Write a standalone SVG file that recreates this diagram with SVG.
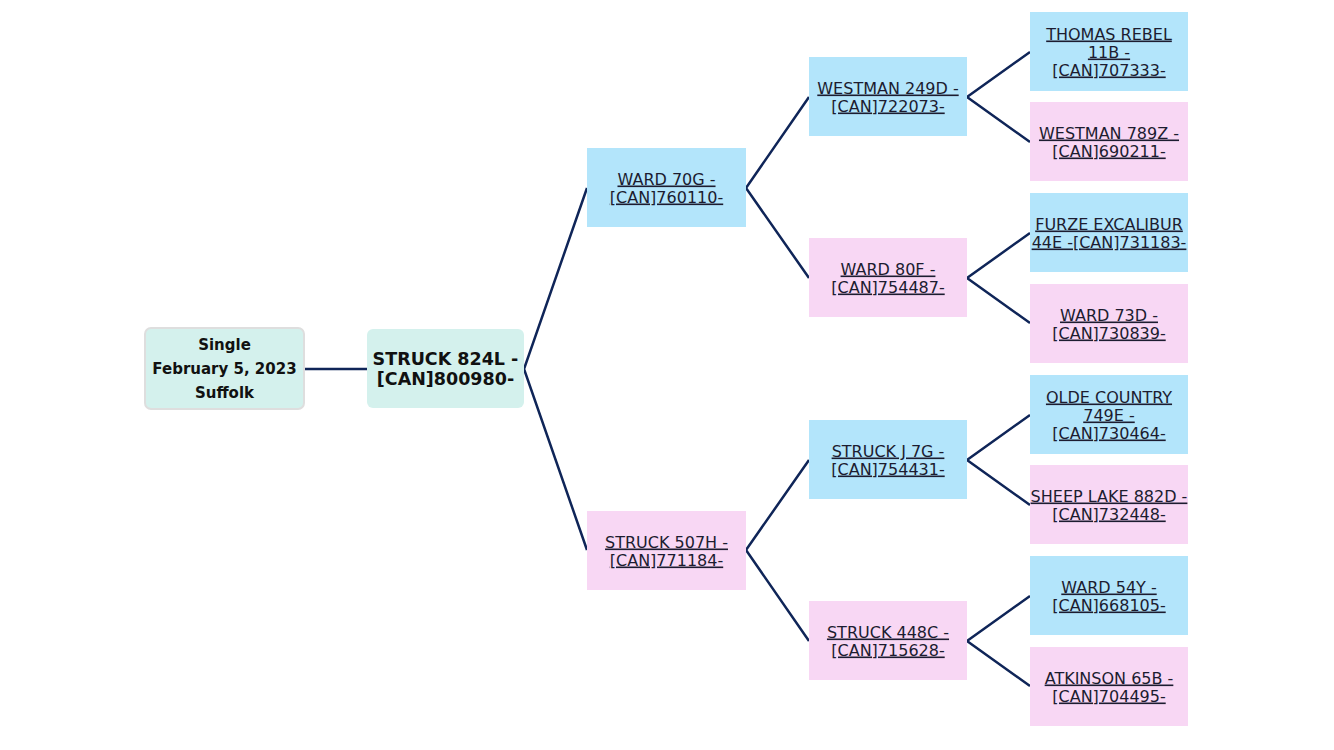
<svg xmlns="http://www.w3.org/2000/svg" width="1334" height="750" viewBox="0 0 1334 750">
<style>
.t{font-family:"DejaVu Sans",Verdana,sans-serif;font-size:16px;fill:#1c1c30;text-anchor:middle;text-decoration:underline}
.b{font-family:"DejaVu Sans",Verdana,sans-serif;font-weight:bold;fill:#111;text-anchor:middle}
.blue{fill:#b3e5fb}
.pink{fill:#f8d7f4}
.teal{fill:#d4f1ed}
.ln{stroke:#0f2558;stroke-width:2.5;fill:none}
</style>
<rect width="1334" height="750" fill="#fff"/>
<g id="connectors" class="ln">
<line x1="304" y1="369" x2="367" y2="369"/>
<polyline points="587,188 524,369 587,550"/>
<polyline points="809,97 746,188 809,278"/>
<polyline points="809,460 746,550 809,641"/>
<polyline points="1030,52 967,97 1030,142"/>
<polyline points="1030,233 967,278 1030,323"/>
<polyline points="1030,415 967,460 1030,505"/>
<polyline points="1030,596 967,641 1030,686"/>
</g>
<g id="info">
<rect class="teal" x="145" y="328" width="159" height="81" rx="6" stroke="#dedede" stroke-width="2"/>
<text class="b" font-size="15" x="224.5" y="349.5">Single</text>
<text class="b" font-size="15" x="224.5" y="373.5">February 5, 2023</text>
<text class="b" font-size="15" x="224.5" y="397.5">Suffolk</text>
</g>
<g id="root">
<rect class="teal" x="367" y="329" width="157" height="79" rx="6"/>
<text class="b" font-size="17.5" x="445.5" y="364.5">STRUCK 824L -</text>
<text class="b" font-size="17.5" x="445.5" y="384.5">[CAN]800980-</text>
</g>
<g id="n_ward70g">
<rect class="blue" x="587" y="148" width="159" height="79"/>
<text class="t" x="666.5" y="184.5">WARD 70G -</text>
<text class="t" x="666.5" y="202.5">[CAN]760110-</text>
</g>
<g id="n_struck507h">
<rect class="pink" x="587" y="511" width="159" height="79"/>
<text class="t" x="666.5" y="547.5">STRUCK 507H -</text>
<text class="t" x="666.5" y="565.5">[CAN]771184-</text>
</g>
<g id="n_westman249d">
<rect class="blue" x="809" y="57" width="158" height="79"/>
<text class="t" x="888" y="93.5">WESTMAN 249D -</text>
<text class="t" x="888" y="111.5">[CAN]722073-</text>
</g>
<g id="n_ward80f">
<rect class="pink" x="809" y="238" width="158" height="79"/>
<text class="t" x="888" y="274.5">WARD 80F -</text>
<text class="t" x="888" y="292.5">[CAN]754487-</text>
</g>
<g id="n_struckj7g">
<rect class="blue" x="809" y="420" width="158" height="79"/>
<text class="t" x="888" y="456.5">STRUCK J 7G -</text>
<text class="t" x="888" y="474.5">[CAN]754431-</text>
</g>
<g id="n_struck448c">
<rect class="pink" x="809" y="601" width="158" height="79"/>
<text class="t" x="888" y="637.5">STRUCK 448C -</text>
<text class="t" x="888" y="655.5">[CAN]715628-</text>
</g>
<g id="n_thomas">
<rect class="blue" x="1030" y="12" width="158" height="79"/>
<text class="t" x="1109" y="39.5">THOMAS REBEL</text>
<text class="t" x="1109" y="57.5">11B -</text>
<text class="t" x="1109" y="75.5">[CAN]707333-</text>
</g>
<g id="n_westman789z">
<rect class="pink" x="1030" y="102" width="158" height="79"/>
<text class="t" x="1109" y="138.5">WESTMAN 789Z -</text>
<text class="t" x="1109" y="156.5">[CAN]690211-</text>
</g>
<g id="n_furze">
<rect class="blue" x="1030" y="193" width="158" height="79"/>
<text class="t" x="1109" y="229.5">FURZE EXCALIBUR</text>
<text class="t" x="1109" y="247.5">44E -[CAN]731183-</text>
</g>
<g id="n_ward73d">
<rect class="pink" x="1030" y="284" width="158" height="79"/>
<text class="t" x="1109" y="320.5">WARD 73D -</text>
<text class="t" x="1109" y="338.5">[CAN]730839-</text>
</g>
<g id="n_olde">
<rect class="blue" x="1030" y="375" width="158" height="79"/>
<text class="t" x="1109" y="402.5">OLDE COUNTRY</text>
<text class="t" x="1109" y="420.5">749E -</text>
<text class="t" x="1109" y="438.5">[CAN]730464-</text>
</g>
<g id="n_sheep">
<rect class="pink" x="1030" y="465" width="158" height="79"/>
<text class="t" x="1109" y="501.5">SHEEP LAKE 882D -</text>
<text class="t" x="1109" y="519.5">[CAN]732448-</text>
</g>
<g id="n_ward54y">
<rect class="blue" x="1030" y="556" width="158" height="79"/>
<text class="t" x="1109" y="592.5">WARD 54Y -</text>
<text class="t" x="1109" y="610.5">[CAN]668105-</text>
</g>
<g id="n_atkinson">
<rect class="pink" x="1030" y="647" width="158" height="79"/>
<text class="t" x="1109" y="683.5">ATKINSON 65B -</text>
<text class="t" x="1109" y="701.5">[CAN]704495-</text>
</g>
</svg>
